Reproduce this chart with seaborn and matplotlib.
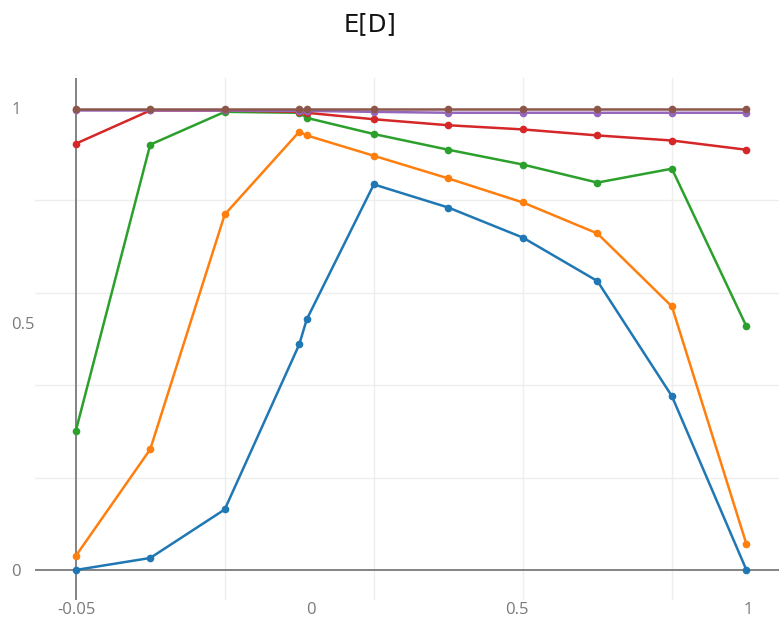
import matplotlib
matplotlib.use("Agg")
import matplotlib.pyplot as plt
import seaborn as sns
import pandas as pd

# ---- data ----
x_values = [0.0, 0.1, 0.2, 0.3, 0.31, 0.4, 0.5, 0.6, 0.7, 0.8, 0.9]
series_names = ["s1", "s2", "s3", "s4", "s5", "s6"]
s1 = [0.0, 0.026, 0.131, 0.488, 0.542, 0.834, 0.784, 0.719, 0.625, 0.376, 0.0]
s2 = [0.030, 0.261, 0.769, 0.948, 0.940, 0.896, 0.847, 0.795, 0.728, 0.570, 0.056]
s3 = [0.300, 0.920, 0.991, 0.989, 0.978, 0.943, 0.909, 0.877, 0.838, 0.868, 0.527]
s4 = [0.922, 0.994, 0.994, 0.991, 0.989, 0.975, 0.962, 0.953, 0.940, 0.929, 0.909]
s5 = [0.994, 0.994, 0.994, 0.993, 0.993, 0.991, 0.989, 0.989, 0.989, 0.989, 0.989]
s6 = [0.998, 0.998, 0.998, 0.998, 0.998, 0.998, 0.998, 0.998, 0.998, 0.998, 0.998]
colors = ["#1f77b4", "#ff7f0e", "#2ca02c", "#d62728", "#9467bd", "#8c564b"]

x_tick_pos = [0.001, 0.316, 0.592, 0.903]
x_tick_labels = ["-0.05", "0", "0.5", "1"]
y_tick_pos = [0.0, 0.535, 1.0]
y_tick_labels = ["0", "0.5", "1"]
x_grid = [0.2, 0.4, 0.6, 0.8]
y_grid = [0.2, 0.4, 0.6, 0.8, 1.0]
title = "E[D]"

rows = []
for name, vals in zip(series_names, [s1, s2, s3, s4, s5, s6]):
    for xv, yv in zip(x_values, vals):
        rows.append({"x": xv, "y": yv, "series": name})
df = pd.DataFrame(rows)

sns.set_theme(style="white")
plt.rcParams["font.family"] = ["Open Sans", "DejaVu Sans"]

W, H = 779, 618
fig = plt.figure(figsize=(W / 100, H / 100), dpi=100)
ax = fig.add_axes([35 / W, 18 / H, 744 / W, 522 / H])
ax.set_facecolor("white")

# grid lines
ax.set_xticks(x_grid, minor=True)
ax.set_yticks(y_grid, minor=True)
ax.grid(which="minor", color="#eeeeee", linewidth=1.0)
ax.grid(which="major", visible=False)
ax.set_axisbelow(True)

# zero lines
ax.axvline(0, color="#7a7a7a", linewidth=1.3, zorder=1)
ax.axhline(0, color="#7a7a7a", linewidth=1.3, zorder=1)

sns.lineplot(data=df, x="x", y="y", hue="series", palette=colors,
             marker="o", markersize=5.5, markeredgewidth=0, linewidth=1.8,
             legend=False, sort=False, ax=ax, zorder=3)

ax.set_xlim(-0.0546, 0.9437)
ax.set_ylim(-0.0649, 1.0642)
ax.set_xlabel("")
ax.set_ylabel("")

ax.set_xticks(x_tick_pos)
ax.set_xticklabels(x_tick_labels)
ax.set_yticks(y_tick_pos)
ax.set_yticklabels(y_tick_labels)
ax.tick_params(axis="both", which="both", length=0, labelsize=12, labelcolor="#7a7a7a")
ax.tick_params(axis="x", pad=1.5)
ax.tick_params(axis="y", pad=17)
for lab in ax.get_yticklabels():
    lab.set_horizontalalignment("left")

for sp in ax.spines.values():
    sp.set_visible(False)

fig.text(370.5 / W, 1 - 24 / H, title, ha="center", va="center",
         fontsize=17.5, color="#111111", family=["DejaVu Sans"])

fig.savefig("out.png", dpi=100, facecolor="white")
